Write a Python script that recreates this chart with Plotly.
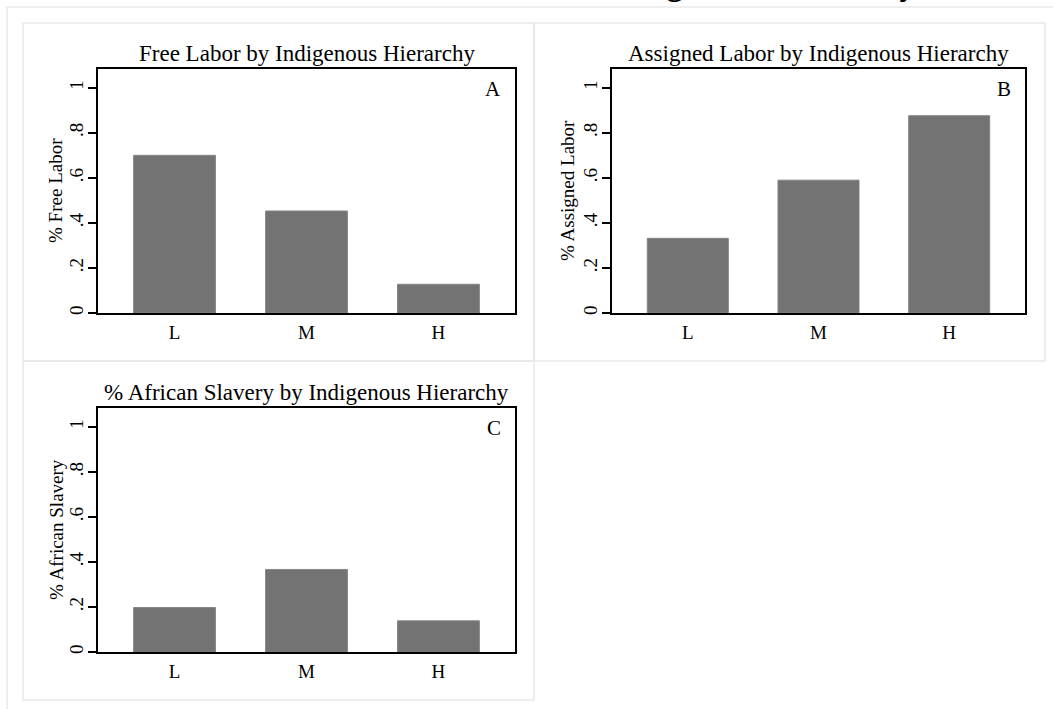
import plotly.graph_objects as go

# Share of each labor regime across levels of indigenous hierarchy
categories = ["L", "M", "H"]
free_labor = [0.70, 0.453, 0.128]
assigned_labor = [0.332, 0.59, 0.876]
african_slavery = [0.198, 0.367, 0.139]

panel_titles = [
    "Free Labor by Indigenous Hierarchy",
    "Assigned Labor by Indigenous Hierarchy",
    "% African Slavery by Indigenous Hierarchy",
]
y_titles = ["% Free Labor", "% Assigned Labor", "% African Slavery"]
panel_letters = ["A", "B", "C"]
y_ticks = [0, 0.2, 0.4, 0.6, 0.8, 1]
y_tick_text = ["0", ".2", ".4", ".6", ".8", "1"]
main_title = "Labor Institutions and Indigenous Hierarchy"

W, H = 1053, 709
SERIF = "Liberation Serif, Times New Roman, serif"
BAR = "#737373"
FRAME = "#e9e9e9"


def fx(px):
    return px / W


def fy(py):
    return 1 - py / H


# plot boxes in pixels: (left, right, top, bottom)
boxes = [(98, 515, 69, 314), (612, 1025, 69, 314), (98, 515, 409, 654)]
# light panel frames: (left, right, top, bottom)
frames = [(23, 534, 23, 362), (534, 1045, 23, 362), (23, 534, 362, 702)]
# horizontal centre of each rotated y-axis title
ytitle_x = [56, 568, 56]

series = [free_labor, assigned_labor, african_slavery]

fig = go.Figure()
layout = dict(
    width=W, height=H,
    margin=dict(l=0, r=0, t=0, b=0),
    paper_bgcolor="white", plot_bgcolor="white",
    showlegend=False,
    font=dict(family=SERIF, color="black", size=18),
    annotations=[], shapes=[],
)

# outer graph frame
layout["shapes"].append(dict(type="rect", xref="paper", yref="paper",
                             x0=fx(7), x1=fx(1062), y0=fy(720), y1=fy(7),
                             line=dict(color=FRAME, width=1.5), layer="below"))

for i in range(3):
    n = "" if i == 0 else str(i + 1)
    l, r, t, b = boxes[i]
    fl, fr, ft, fb = frames[i]
    layout["shapes"].append(dict(type="rect", xref="paper", yref="paper",
                                 x0=fx(fl), x1=fx(fr), y0=fy(fb), y1=fy(ft),
                                 line=dict(color=FRAME, width=1.5), layer="below"))
    fig.add_trace(go.Bar(
        x=categories, y=series[i], width=0.62,
        marker=dict(color=BAR, line=dict(color="#858585", width=1)),
        xaxis="x" + n, yaxis="y" + n, hoverinfo="x+y",
    ))
    layout["xaxis" + n] = dict(
        domain=[fx(l), fx(r)], anchor="y" + n,
        range=[-0.58, 2.58], type="category",
        showline=True, linecolor="black", linewidth=2, mirror=True,
        ticks="", showgrid=False, zeroline=False,
        tickfont=dict(family=SERIF, size=19), ticklabelstandoff=1,
    )
    layout["yaxis" + n] = dict(
        domain=[fy(b), fy(t)], anchor="x" + n,
        range=[0, 1.084],
        tickvals=y_ticks, ticktext=y_tick_text, tickangle=-90,
        ticks="outside", ticklen=8, tickwidth=1.5, tickcolor="black",
        showline=True, linecolor="black", linewidth=2, mirror=True,
        showgrid=False, zeroline=False,
        tickfont=dict(family=SERIF, size=19), ticklabelstandoff=-3,
    )
    # y-axis title
    layout["annotations"].append(dict(
        text=y_titles[i], xref="paper", yref="paper", textangle=-90,
        x=fx(ytitle_x[i]), y=fy((t + b) / 2), xanchor="center", yanchor="middle",
        showarrow=False, font=dict(family=SERIF, size=19),
    ))
    # panel title
    layout["annotations"].append(dict(
        text=panel_titles[i], xref="paper", yref="paper",
        x=fx((l + r) / 2), y=fy(t - 15), xanchor="center", yanchor="middle",
        showarrow=False, font=dict(family=SERIF, size=23),
    ))
    # panel letter
    layout["annotations"].append(dict(
        text=panel_letters[i], xref="paper", yref="paper",
        x=fx(r - 12), y=fy(t + 20), xanchor="right", yanchor="middle",
        showarrow=False, font=dict(family=SERIF, size=21),
    ))

# overall title, mostly above the visible page
layout["annotations"].append(dict(
    text="<b>" + main_title + "</b>", xref="paper", yref="paper",
    x=fx(919), y=fy(4.5), xanchor="right", yanchor="bottom",
    showarrow=False, font=dict(family=SERIF, size=33),
))

fig.update_layout(**layout)
fig.write_html("out.html")
